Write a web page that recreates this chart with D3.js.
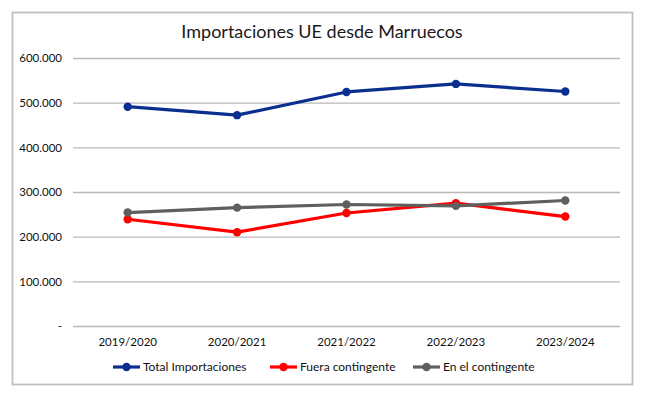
<!DOCTYPE html>
<html>
<head>
<meta charset="utf-8">
<script src="https://cdn.jsdelivr.net/npm/d3@7"></script>
<style>
  body { margin: 0; background: #fff; }
  text { font-family: Lato, "Open Sans", sans-serif; }
</style>
</head>
<body>
<div id="chart"></div>
<script>
var svgWidth = 645;
var svgHeight = 393;

var margin = { top: 58, right: 25, bottom: 67, left: 73 };
var width = 620 - margin.left;
var height = 326 - margin.top;

// Data
var seasons = ["2019/2020", "2020/2021", "2021/2022", "2022/2023", "2023/2024"];
var totalImport = [491000, 472000, 524000, 542000, 525000];
var fueraContingente = [239000, 210000, 253000, 275000, 245000];
var enContingente = [254000, 265000, 272000, 269000, 281000];
var yTicks = [0, 100000, 200000, 300000, 400000, 500000, 600000];

var series = [
  { name: "Total Importaciones", values: totalImport, color: "#0b2f8e" },
  { name: "Fuera contingente", values: fueraContingente, color: "#ff0000" },
  { name: "En el contingente", values: enContingente, color: "#5f5f5f" }
];

var svg = d3.select("#chart")
  .append("svg")
  .attr("width", svgWidth)
  .attr("height", svgHeight);

// frame
svg.append("rect")
  .attr("x", 12.5).attr("y", 12.5)
  .attr("width", 620).attr("height", 372)
  .attr("fill", "#fff")
  .attr("stroke", "#c0c0c0")
  .attr("stroke-width", 1.8);

svg.append("text")
  .attr("x", 322)
  .attr("y", 38)
  .attr("text-anchor", "middle")
  .attr("font-size", "18px")
  .attr("fill", "#1a1a1a")
  .text("Importaciones UE desde Marruecos");

var chartGroup = svg.append("g")
  .attr("transform", `translate(${margin.left}, ${margin.top})`);

var xScale = d3.scaleBand()
  .domain(seasons)
  .range([0, width]);

var yScale = d3.scaleLinear()
  .domain([0, 600000])
  .range([height, 0]);

var fmt = d => d === 0 ? "-" : d3.format(",")(d).replace(/,/g, ".");

// gridlines + y labels
var leftAxis = d3.axisLeft(yScale)
  .tickValues(yTicks)
  .tickSize(-width)
  .tickPadding(10)
  .tickFormat(fmt);

var yAxis = chartGroup.append("g").call(leftAxis);
yAxis.select(".domain").remove();
yAxis.selectAll(".tick line").attr("stroke", "#b8b8b8").attr("stroke-width", 1.4);
yAxis.selectAll(".tick text")
  .attr("font-size", "11.5px")
  .attr("fill", "#111")
  .attr("x", -11);

var bottomAxis = d3.axisBottom(xScale).tickSize(0).tickPadding(12);
var xAxis = chartGroup.append("g")
  .attr("transform", `translate(0, ${height})`)
  .call(bottomAxis);
xAxis.select(".domain").remove();
xAxis.selectAll(".tick text")
  .attr("font-size", "11.5px")
  .attr("fill", "#111");

var xPos = d => xScale(d) + xScale.bandwidth() / 2;

var line = d3.line()
  .x((d, i) => xPos(seasons[i]))
  .y(d => yScale(d));

series.forEach(function(s) {
  var g = chartGroup.append("g");
  g.append("path")
    .datum(s.values)
    .attr("fill", "none")
    .attr("stroke", s.color)
    .attr("stroke-width", 3.2)
    .attr("stroke-linejoin", "round")
    .attr("d", line);
  g.selectAll("circle")
    .data(s.values)
    .enter()
    .append("circle")
    .attr("cx", (d, i) => xPos(seasons[i]))
    .attr("cy", d => yScale(d))
    .attr("r", 4.2)
    .attr("fill", s.color);
});

// legend
var legendX = [113, 270, 413];
var legend = svg.append("g").attr("transform", "translate(0, 367)");
series.forEach(function(s, i) {
  var lg = legend.append("g").attr("transform", `translate(${legendX[i]}, 0)`);
  lg.append("line")
    .attr("x1", 0).attr("x2", 27)
    .attr("y1", 0).attr("y2", 0)
    .attr("stroke", s.color)
    .attr("stroke-width", 3.2);
  lg.append("circle")
    .attr("cx", 13.5).attr("cy", 0).attr("r", 4.2)
    .attr("fill", s.color);
  lg.append("text")
    .attr("x", 30).attr("y", 4)
    .attr("font-size", "12px")
    .attr("fill", "#111")
    .text(s.name);
});
</script>
</body>
</html>
